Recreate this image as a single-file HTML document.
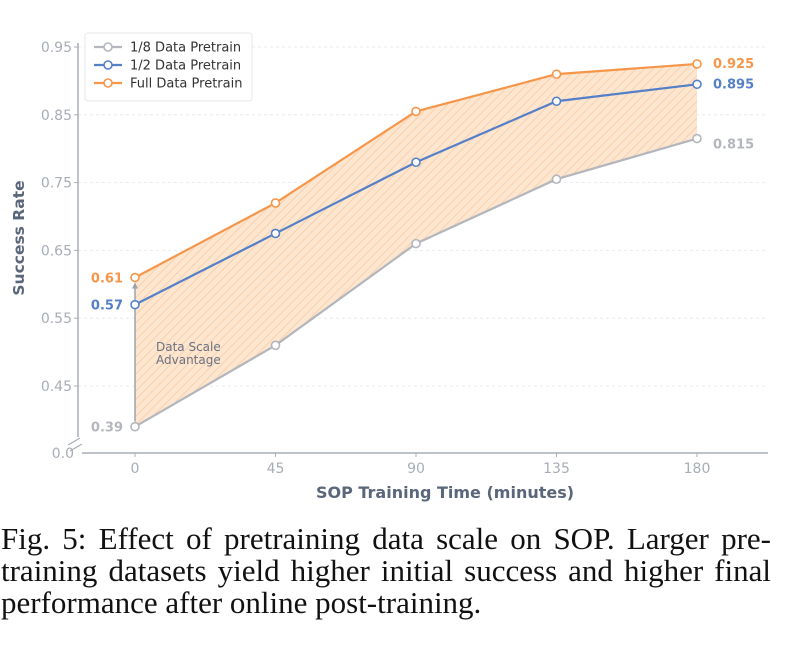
<!DOCTYPE html>
<html><head><meta charset="utf-8"><style>
body{margin:0;background:#fff;width:812px;height:652px;overflow:hidden}
svg text{font-family:"DejaVu Sans","Liberation Sans",sans-serif}
.cap{position:absolute;left:1px;width:770px;font-family:"Liberation Serif",serif;font-size:31px;color:#111;text-align:justify;text-align-last:justify;white-space:nowrap;line-height:32px}
</style></head><body>
<svg id="chart" width="812" height="520" style="position:absolute;left:0;top:0">
<defs>
<pattern id="hatch" width="6" height="6" patternUnits="userSpaceOnUse" patternTransform="rotate(45)">
<rect width="6" height="6" fill="#fde6d0"/>
<line x1="0" y1="0" x2="0" y2="6" stroke="#f9c9a0" stroke-width="1.5"/>
</pattern>
</defs>
<g id="grid"></g>
<path id="band" fill="url(#hatch)" stroke="none"/>
<line x1="78" y1="43" x2="78" y2="437" stroke="#a7adb6" stroke-width="1.5"/>
<line x1="68" y1="445" x2="80" y2="438" stroke="#a7adb6" stroke-width="1.2"/>
<line x1="70" y1="451" x2="82" y2="444" stroke="#a7adb6" stroke-width="1.2"/>
<line x1="82" y1="453" x2="768" y2="453" stroke="#a7adb6" stroke-width="1.5"/>
<text x="74" y="458" font-size="14" fill="#a7adb6" text-anchor="end">0.0</text>
<g id="ticks"></g>
<g id="series"></g>
<text x="156" y="351" font-size="12" fill="#6b7280">Data Scale</text>
<text x="156" y="364" font-size="12" fill="#6b7280">Advantage</text>
<text transform="translate(24,238) rotate(-90)" font-size="15.5" font-weight="bold" fill="#5a667a" text-anchor="middle">Success Rate</text>
<text x="445" y="498" font-size="16" font-weight="bold" fill="#5a667a" text-anchor="middle">SOP Training Time (minutes)</text>
<g>
<rect x="85" y="33" width="167" height="68" rx="3" fill="#fff" stroke="#e5e7eb"/>
<g id="legend"></g>
</g>
</svg>
<div class="cap" style="top:523px">Fig. 5: Effect of pretraining data scale on SOP. Larger pre-</div>
<div class="cap" style="top:555px">training datasets yield higher initial success and higher final</div>
<div class="cap" style="top:587px;text-align-last:left">performance after online post-training.</div>
<script>
const times=[0,45,90,135,180];
const eighth=[0.39,0.51,0.66,0.755,0.815];
const half=[0.57,0.675,0.78,0.87,0.895];
const full=[0.61,0.72,0.855,0.91,0.925];
const seriesNames=["1/8 Data Pretrain","1/2 Data Pretrain","Full Data Pretrain"];
const yTicks=[0.45,0.55,0.65,0.75,0.85,0.95];
const xTicks=[0,45,90,135,180];
const NS="http://www.w3.org/2000/svg";
const X=v=>135+v*(697-135)/180;
const Y=v=>47+(0.95-v)*678;
function mk(t,a,p){const e=document.createElementNS(NS,t);for(const k in a)e.setAttribute(k,a[k]);p.appendChild(e);return e;}
const grid=document.getElementById('grid'),ticks=document.getElementById('ticks');
yTicks.forEach(v=>{
 const g=mk('line',{x1:78,x2:768,y1:Y(v),y2:Y(v),stroke:'#e3e5e8','stroke-dasharray':'3,3','stroke-width':0.8},grid);
 
 
 const tk=mk('line',{x1:74,x2:78,y1:Y(v),y2:Y(v),stroke:'#a7adb6'},ticks);
 
 
 const t=mk('text',{x:72,y:Y(v)+5,'font-size':14,fill:'#a7adb6','text-anchor':'end'},ticks);
 
 
 t.textContent=v.toFixed(2);
});
xTicks.forEach(v=>{
 const tk=mk('line',{x1:X(v),x2:X(v),y1:453,y2:457,stroke:'#a7adb6'},ticks);
 
 
 const t=mk('text',{x:X(v),y:473,'font-size':14,fill:'#a7adb6','text-anchor':'middle'},ticks);
 
 
 t.textContent=v;
});
let d='M'+times.map((t,i)=>X(t)+','+Y(full[i])).join('L');
for(let i=times.length-1;i>=0;i--)d+='L'+X(times[i])+','+Y(eighth[i]);
document.getElementById('band').setAttribute('d',d+'Z');
const S=document.getElementById('series');
const ar=mk('line',{x1:X(times[0]),x2:X(times[0]),y1:Y(eighth[0])-5,y2:Y(full[0])+6,stroke:'#9ca3af','stroke-width':1.5},S);


const ah=mk('path',{d:`M${X(0)-3},${Y(full[0])+11}L${X(0)},${Y(full[0])+5}L${X(0)+3},${Y(full[0])+11}Z`,fill:'#9ca3af'},S);


const data=[eighth,half,full],cols=['#b3b6bc','#5580c8','#f5964a'];
data.forEach((arr,si)=>{
 const p=mk('polyline',{points:times.map((t,i)=>X(t)+','+Y(arr[i])).join(' '),fill:'none',stroke:cols[si],'stroke-width':2.2},S);
 
 
 times.forEach((t,i)=>{
  const c=mk('circle',{cx:X(t),cy:Y(arr[i]),r:4,fill:'#fff',stroke:cols[si],'stroke-width':1.6},S);
  
  
 });
 const l=mk('text',{x:X(0)-12,y:Y(arr[0])+5,'font-size':13,'font-weight':'bold',fill:cols[si],'text-anchor':'end'},S);
 
 
 l.textContent=String(arr[0]);
 const n=arr.length-1;
 const r=mk('text',{x:X(times[n])+16,y:Y(arr[n])+(si==0?10:4),'font-size':13,'font-weight':'bold',fill:cols[si]},S);
 
 
 r.textContent=String(arr[n]);
 const lg=document.getElementById('legend'),ly=47+si*18;
 const ll=mk('line',{x1:94,x2:122,y1:ly,y2:ly,stroke:cols[si],'stroke-width':2.2},lg);
 
 
 const lc=mk('circle',{cx:108,cy:ly,r:4,fill:'#fff',stroke:cols[si],'stroke-width':1.6},lg);
 
 
 const lt=mk('text',{x:130,y:ly+4.5,'font-size':13,fill:'#333'},lg);
 
 
 lt.textContent=seriesNames[si];
});
</script>
</body></html>
